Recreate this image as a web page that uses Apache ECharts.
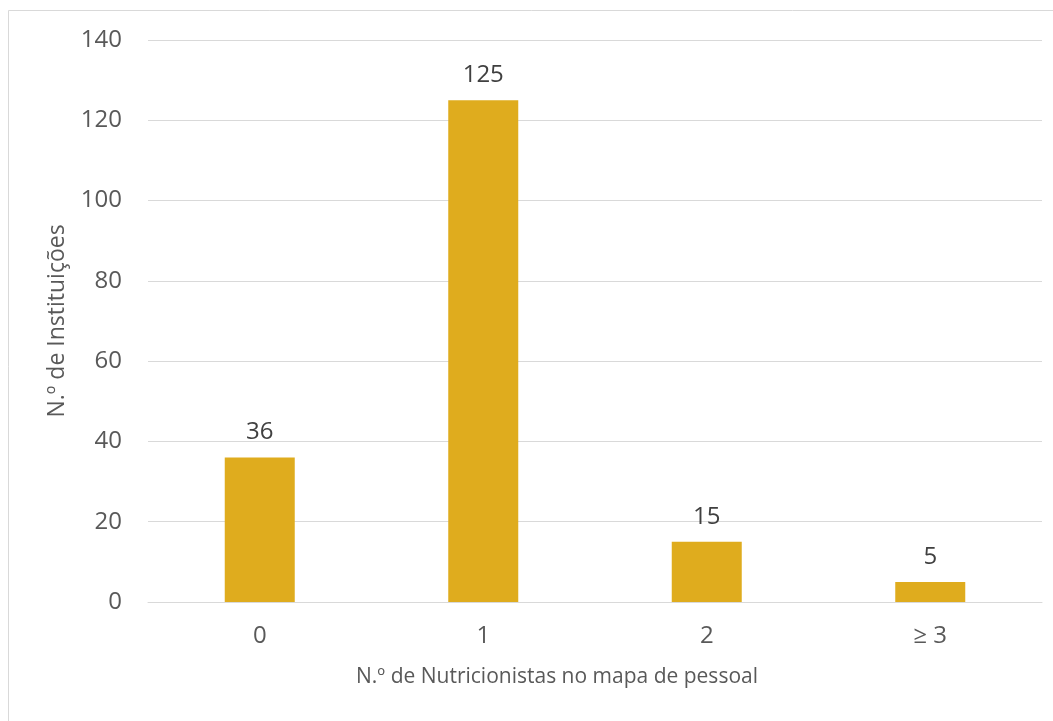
<!DOCTYPE html>
<html>
<head>
<meta charset="utf-8">
<script src="https://cdn.jsdelivr.net/npm/echarts@6/dist/echarts.min.js"></script>
<style>
  html, body { margin: 0; padding: 0; background: #fff; }
  #chart { width: 1053px; height: 721px; }
</style>
</head>
<body>
<div id="chart"></div>
<script>
// categories and values
const categories = ['0', '1', '2', '≥ 3'];
const counts = [36, 125, 15, 5];
const yTicks = [0, 20, 40, 60, 80, 100, 120, 140];

const font = '"Open Sans", "DejaVu Sans", sans-serif';
const chart = echarts.init(document.getElementById('chart'));

chart.setOption({
  animation: false,
  backgroundColor: '#ffffff',
  grid: { left: 148, right: 11, top: 40, bottom: 119, containLabel: false },
  graphic: [
    {
      type: 'rect',
      shape: { x: 8.5, y: 10.5, width: 1060, height: 730 },
      style: { fill: 'none', stroke: '#d9d9d9', lineWidth: 1 }
    },
    {
      type: 'text',
      x: 557, y: 677,
      style: {
        text: 'N.º de Nutricionistas no mapa de pessoal',
        fill: '#595959', font: '21px ' + font,
        textAlign: 'center', textVerticalAlign: 'middle'
      }
    }
  ],
  xAxis: {
    type: 'category',
    data: categories,
    axisLine: { show: true, lineStyle: { color: '#d9d9d9', width: 1 } },
    axisTick: { show: false },
    axisLabel: { color: '#595959', fontSize: 24, fontFamily: font, margin: 22 }
  },
  yAxis: {
    type: 'value',
    min: yTicks[0],
    max: yTicks[yTicks.length - 1],
    interval: 20,
    name: 'N.º de Instituições',
    nameLocation: 'middle',
    nameGap: 79,
    nameTextStyle: { color: '#595959', fontSize: 23, fontFamily: font },
    axisLine: { show: false },
    axisTick: { show: false },
    axisLabel: { color: '#595959', fontSize: 24, fontFamily: font, margin: 26 },
    splitLine: { lineStyle: { color: '#d9d9d9', width: 1 } }
  },
  series: [
    {
      type: 'bar',
      data: counts,
      barWidth: 70,
      itemStyle: { color: '#dfac1e' },
      label: {
        show: true,
        position: 'top',
        distance: 13,
        color: '#404040',
        fontSize: 24,
        fontFamily: font
      }
    }
  ]
});
</script>
</body>
</html>
